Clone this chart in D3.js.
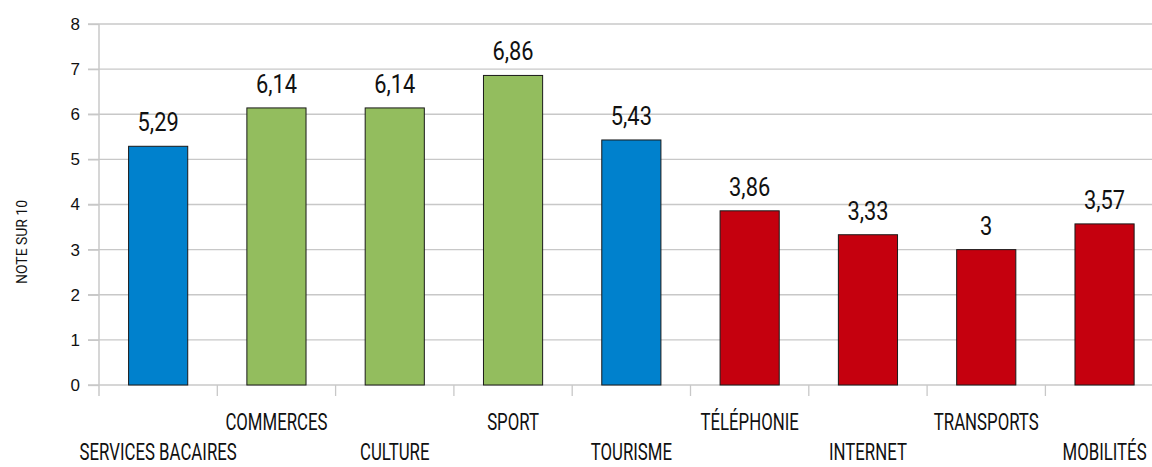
<!DOCTYPE html>
<html lang='fr'>
<head>
  <meta charset='UTF-8'>
  <title>Note sur 10</title>
  <style>
  body { margin: 0; background: #fff; }
  svg { display: block; }
  .tick text { font-family: 'Liberation Sans', Arial, sans-serif; font-size: 17px; fill: #111; }
  .cond { font-family: Roboto, 'DejaVu Sans Condensed', sans-serif; fill: #111; }
  </style>
  <script src='https://d3js.org/d3.v7.min.js'></script>
</head>
<body>
  <script>

  // data
  var categories = ['SERVICES BACAIRES', 'COMMERCES', 'CULTURE', 'SPORT', 'TOURISME',
                    'TÉLÉPHONIE', 'INTERNET', 'TRANSPORTS', 'MOBILITÉS'];
  var notes = [5.29, 6.14, 6.14, 6.86, 5.43, 3.86, 3.33, 3, 3.57];
  var groups = ['blue', 'green', 'green', 'green', 'blue', 'red', 'red', 'red', 'red'];
  var yTicks = [0, 1, 2, 3, 4, 5, 6, 7, 8];

  var colors = { blue: '#0081cd', green: '#93bd5e', red: '#c5000e' };

  var svgWidth = 1152, svgHeight = 467;
  var margin = { top: 24, left: 99 };
  var width = 118.3 * categories.length;
  var height = 361;

  var svg = d3.select('body').append('svg')
    .attr('width', svgWidth).attr('height', svgHeight);

  var g = svg.append('g').attr('transform', 'translate(' + margin.left + ',' + margin.top + ')');

  var x = d3.scaleBand().domain(categories).range([0, width]).paddingInner(0.5).paddingOuter(0.25);
  var y = d3.scaleLinear().domain([0, 8]).range([height, 0]);

  // gridlines
  g.selectAll('.grid')
    .data(yTicks)
    .enter().append('line')
    .attr('x1', -11).attr('x2', width)
    .attr('y1', function (d) { return y(d); })
    .attr('y2', function (d) { return y(d); })
    .attr('stroke', '#c8c8c8').attr('stroke-width', 1.3);

  // y axis
  var yAxis = g.append('g')
    .call(d3.axisLeft(y).tickValues(yTicks).tickSize(11).tickPadding(8));
  yAxis.select('.domain').remove();
  yAxis.selectAll('.tick line').attr('stroke', '#c8c8c8').attr('stroke-width', 1.3);

  g.append('line')
    .attr('x1', 0).attr('x2', 0).attr('y1', 0).attr('y2', height + 11)
    .attr('stroke', '#c8c8c8').attr('stroke-width', 1.5);

  // x category separators
  var step = x.step();
  g.selectAll('.xtick')
    .data(d3.range(1, categories.length + 1))
    .enter().append('line')
    .attr('x1', function (i) { return i * step; })
    .attr('x2', function (i) { return i * step; })
    .attr('y1', height).attr('y2', height + 11)
    .attr('stroke', '#c8c8c8').attr('stroke-width', 1.3);

  // bars
  g.selectAll('.bar')
    .data(notes)
    .enter().append('rect')
    .attr('x', function (d, i) { return x(categories[i]); })
    .attr('y', function (d) { return y(d); })
    .attr('width', x.bandwidth())
    .attr('height', function (d) { return height - y(d); })
    .attr('fill', function (d, i) { return colors[groups[i]]; })
    .attr('stroke', '#1a1a1a').attr('stroke-width', 1);

  // value labels
  g.selectAll('.val')
    .data(notes)
    .enter().append('text')
    .attr('class', 'cond')
    .attr('text-anchor', 'middle')
    .attr('font-size', 26)
    .attr('transform', function (d, i) {
      var cx = x(categories[i]) + x.bandwidth() / 2;
      return 'translate(' + cx + ',' + (y(d) - 15) + ') scale(0.84,1)';
    })
    .text(function (d) { return String(d).replace('.', ','); });

  // category labels, staggered on two rows
  g.selectAll('.cat')
    .data(categories)
    .enter().append('text')
    .attr('class', 'cond')
    .attr('text-anchor', 'middle')
    .attr('font-size', 24)
    .attr('transform', function (d, i) {
      var cx = x(d) + x.bandwidth() / 2;
      var cy = height + (i % 2 ? 45 : 75);
      return 'translate(' + cx + ',' + cy + ') scale(0.7,1)';
    })
    .text(function (d) { return d; });

  // y axis title
  svg.append('text')
    .attr('class', 'cond')
    .attr('text-anchor', 'middle')
    .attr('font-size', 15.5)
    .attr('transform', 'translate(27,242) rotate(-90) scale(0.9,1)')
    .text('NOTE SUR 10');
  </script>
</body>
</html>
